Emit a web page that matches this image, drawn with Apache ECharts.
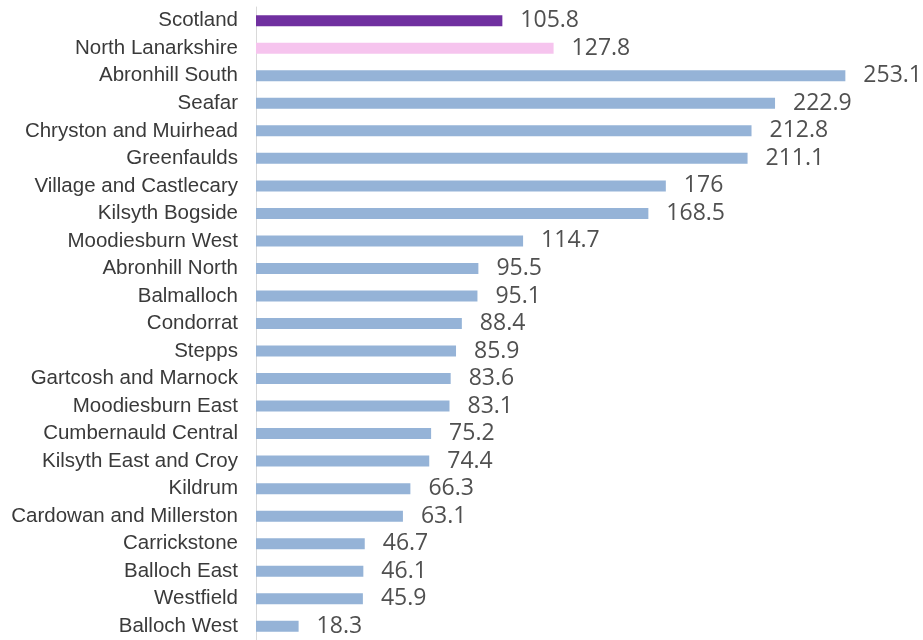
<!DOCTYPE html>
<html>
<head>
<meta charset="utf-8">
<script src="https://cdn.jsdelivr.net/npm/echarts@6/dist/echarts.min.js"></script>
<style>
  html, body { margin: 0; padding: 0; background: #fff; }
  #chart { width: 923px; height: 640px; }
</style>
</head>
<body>
<div id="chart"></div>
<script>
// areas, top to bottom
const areas = [
  'Scotland', 'North Lanarkshire', 'Abronhill South', 'Seafar',
  'Chryston and Muirhead', 'Greenfaulds', 'Village and Castlecary',
  'Kilsyth Bogside', 'Moodiesburn West', 'Abronhill North', 'Balmalloch',
  'Condorrat', 'Stepps', 'Gartcosh and Marnock', 'Moodiesburn East',
  'Cumbernauld Central', 'Kilsyth East and Croy', 'Kildrum',
  'Cardowan and Millerston', 'Carrickstone', 'Balloch East', 'Westfield',
  'Balloch West'
]
const rates = [
  105.8, 127.8, 253.1, 222.9, 212.8, 211.1, 176, 168.5, 114.7, 95.5, 95.1,
  88.4, 85.9, 83.6, 83.1, 75.2, 74.4, 66.3, 63.1, 46.7, 46.1, 45.9, 18.3
]

const barColor = (i) => {
  if (i === 0) return '#7030a0'
  if (i === 1) return '#f6c4ee'
  return '#95b3d7'
}

const chart = echarts.init(document.getElementById('chart'))
chart.setOption({
  animation: false,
  grid: {left: 256, right: 15, top: 7, bottom: 0},
  xAxis: {
    type: 'value',
    min: 0,
    max: 280,
    show: false
  },
  yAxis: {
    type: 'category',
    data: areas,
    inverse: true,
    axisLine: {show: true, lineStyle: {color: '#d9d9d9', width: 1}},
    axisTick: {show: false},
    axisLabel: {
      margin: 18,
      color: '#3a3a3a',
      fontFamily: 'Liberation Sans, Arial, sans-serif',
      fontSize: 20.5
    }
  },
  series: [{
    type: 'bar',
    barWidth: 11,
    data: rates.map((v, i) => ({value: v, itemStyle: {color: barColor(i)}})),
    label: {
      show: true,
      position: 'right',
      distance: 18,
      color: '#505050',
      fontFamily: 'Open Sans, sans-serif',
      fontSize: 23
    }
  }]
})
</script>
</body>
</html>
